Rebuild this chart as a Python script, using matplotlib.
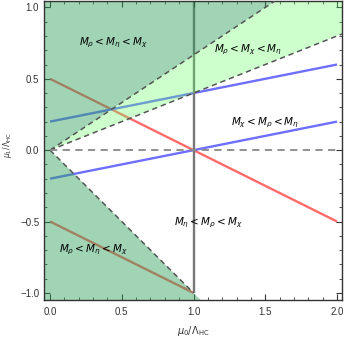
"""Mass-ordering regions in the (mu0, mu1) plane."""

import matplotlib

matplotlib.use("Agg")
import matplotlib.pyplot as plt
import numpy as np

# ---------- Data -------------------------------------------------------------

# straight lines, given by their end points (mu0, mu1)
red_line = [(0.0, 0.5), (2.0, -0.5)]
red_low_line = [(0.0, -0.5), (1.0, -1.0)]
blue_up_line = [(0.0, 0.2), (2.0, 0.6)]
blue_low_line = [(0.0, -0.2), (2.0, 0.2)]
vert_line = [(1.0, -1.0), (1.0, 1.05)]
zero_line = [(0.0, 0.0), (2.0, 0.0)]

# region boundaries mu1 = slope * mu0 (through the origin)
slope_upper = 2.0 / 3.0
slope_lower = 0.4
slope_neg = -1.0

region_labels = [
    (0.44, 0.75, r"$M_\rho < M_\eta < M_\chi$"),
    (1.38, 0.70, r"$M_\rho < M_\chi < M_\eta$"),
    (1.50, 0.19, r"$M_\chi < M_\rho < M_\eta$"),
    (1.10, -0.51, r"$M_\eta < M_\rho < M_\chi$"),
    (0.30, -0.70, r"$M_\rho < M_\eta < M_\chi$"),
]

XLIM = (-0.042, 2.035)
YLIM = (-1.05, 1.045)

DARK_GREEN = "#2ca05a"
LIGHT_GREEN = "#66ff66"

# ---------- Plot -------------------------------------------------------------

fig = plt.figure(figsize=(3.46, 3.38), dpi=100)
ax = fig.add_axes([0.1272, 0.1124, 0.8613, 0.8846])


def draw(line, **kw):
    xs, ys = zip(*line)
    ax.plot(xs, ys, solid_capstyle="butt", **kw)


draw(red_line, color="#ff6b6b", lw=1.7, zorder=1)
draw(red_low_line, color="#ff6b6b", lw=1.7, zorder=1)
draw(blue_up_line, color="#6f6fff", lw=1.7, zorder=1)
draw(blue_low_line, color="#6f6fff", lw=1.7, zorder=1)
draw(vert_line, color="#777777", lw=1.7, zorder=1)

x0, x1 = XLIM
y0, y1 = YLIM

# upper dark region: mu1 > slope_upper * mu0
x_top = y1 / slope_upper
ax.fill([x0, 0, x_top, x0], [0, 0, y1, y1], color=DARK_GREEN, alpha=0.45,
        lw=0, zorder=2)
# light band: slope_lower * mu0 < mu1 < slope_upper * mu0
ax.fill([0, x1, x1, x_top], [0, slope_lower * x1, y1, y1], color=LIGHT_GREEN,
        alpha=0.32, lw=0, zorder=2)
# lower dark region: mu1 < -mu0
x_bot = y0 / slope_neg
ax.fill([x0, 0, x_bot, x0], [0, 0, y0, y0], color=DARK_GREEN, alpha=0.45,
        lw=0, zorder=2)

# dashed boundaries
dash = dict(color="#555555", lw=1.1, ls=(0, (3.5, 2.5)), zorder=3)
ax.plot([0, x_top], [0, y1], **dash)
ax.plot([0, x1], [0, slope_lower * x1], **dash)
ax.plot([0, 1.0], [0, slope_neg * 1.0], **dash)
draw(zero_line, color="#888888", lw=1.3, ls=(0, (4, 3)), zorder=3)

for x, y, s in region_labels:
    ax.text(x, y, s, fontsize=7.5, ha="center", va="center", zorder=4)

ax.set_xlim(XLIM)
ax.set_ylim(YLIM)
ax.set_xticks(np.arange(0, 2.01, 0.5))
ax.set_xticks(np.arange(0, 2.01, 0.1), minor=True)
ax.set_yticks(np.arange(-1, 1.01, 0.5))
ax.set_yticks(np.arange(-1, 1.01, 0.1), minor=True)
ax.set_xticklabels([f"{v:.1f}" for v in np.arange(0, 2.01, 0.5)])
ax.set_yticklabels([f"{v:.1f}".replace("-", "\u2212") for v in np.arange(-1, 1.01, 0.5)])
ax.tick_params(which="both", direction="in", top=True, right=True,
               labelsize=7, labelcolor="#333333", color="#333333")
ax.tick_params(axis="x", which="both", pad=5)
ax.tick_params(axis="y", which="both", pad=3.5)
ax.tick_params(which="major", length=4, width=0.8)
ax.tick_params(which="minor", length=2.3, width=0.6)
for lab in ax.get_xticklabels() + ax.get_yticklabels():
    lab.set_family("Liberation Sans")
for sp in ax.spines.values():
    sp.set_color("#333333")
    sp.set_linewidth(1.0)

ax.set_xlabel(r"$\mu_0/\Lambda_{\rm HC}$", fontsize=7, color="#333333")
ax.xaxis.set_label_coords(0.5, -0.08)
ax.set_ylabel(r"$\mu_1/\Lambda_{\rm HC}$", fontsize=5.5, color="#333333")
ax.yaxis.set_label_coords(-0.1, 0.518)

fig.savefig("out.png", dpi=100)
plt.close(fig)
